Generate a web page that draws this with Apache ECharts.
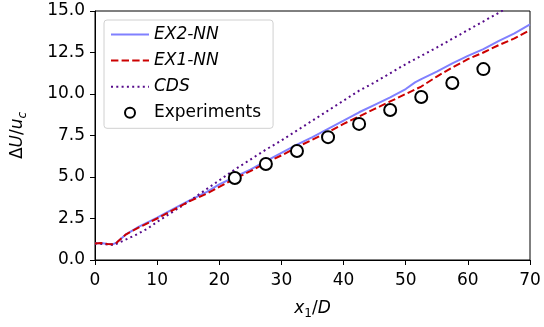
<!DOCTYPE html>
<html>
<head>
<meta charset="utf-8">
<script src="https://cdn.jsdelivr.net/npm/echarts@6/dist/echarts.min.js"></script>
<style>
  html, body { margin: 0; padding: 0; background: #fff; }
  #container { width: 544px; height: 327px; }
</style>
</head>
<body>
<div id="container"></div>
<script>
// data
var ex2X = [0, 1, 2, 3, 3.5, 5, 7, 10, 13, 15, 18, 20, 22.5, 25, 27.5, 30, 32.5, 35, 37.5, 40, 42.5, 45, 47.5, 50, 51.5, 52.5, 55, 57.5, 60, 62.5, 65, 67.5, 70];
var ex2Y = [1.0, 1.02, 0.96, 0.97, 1.05, 1.55, 2.0, 2.55, 3.15, 3.55, 4.1, 4.55, 5.0, 5.45, 5.95, 6.45, 6.95, 7.4, 7.9, 8.4, 8.9, 9.35, 9.8, 10.3, 10.7, 10.9, 11.35, 11.85, 12.3, 12.7, 13.2, 13.65, 14.2];

var ex1X = [0, 1, 2, 3, 3.5, 5, 7, 10, 13, 15, 18, 20, 22.5, 25, 27.5, 30, 32.5, 35, 37.5, 40, 42.5, 45, 47.5, 50, 52.5, 55, 57.5, 60, 62.5, 65, 67.5, 70];
var ex1Y = [1.0, 1.02, 0.96, 0.95, 1.05, 1.55, 1.95, 2.5, 3.1, 3.5, 4.0, 4.4, 4.9, 5.35, 5.85, 6.3, 6.8, 7.25, 7.7, 8.2, 8.65, 9.1, 9.55, 10.0, 10.45, 11.05, 11.6, 12.1, 12.5, 12.95, 13.35, 13.85];

var cdsX = [0, 1.5, 3, 4.5, 6.5, 8.5, 10, 12.5, 15, 17.5, 20, 22.5, 25, 27.5, 30, 35, 40, 42.5, 45, 50, 55, 60, 65, 70];
var cdsY = [1.0, 0.95, 0.9, 1.15, 1.5, 1.9, 2.3, 2.9, 3.5, 4.15, 4.8, 5.45, 6.05, 6.65, 7.2, 8.4, 9.6, 10.2, 10.7, 11.8, 12.8, 13.85, 14.9, 16.0];

var expX = [22.5, 27.5, 32.5, 37.5, 42.5, 47.5, 52.5, 57.5, 62.5];
var expY = [4.94, 5.78, 6.57, 7.4, 8.2, 9.04, 9.82, 10.66, 11.5];

var pairs = function (xs, ys) {
  var res = [];
  for (var i = 0; i < xs.length; i++) res.push([xs[i], ys[i]]);
  return res;
};

var font = 'DejaVu Sans';
var myChart = echarts.init(document.getElementById('container'));

// hide the dot echarts puts on line legend icons
var noDot = { opacity: 0 };

var option = {
  animation: false,
  textStyle: { fontFamily: font },
  grid: {
    left: 95, right: 14, top: 11, bottom: 67,
    show: true, borderColor: '#000', borderWidth: 1
  },
  legend: {
    orient: 'vertical',
    left: 104, top: 20,
    itemWidth: 38, itemHeight: 10, itemGap: 9.1,
    padding: [6, 12, 7, 6],
    borderColor: '#d0d0d0', borderWidth: 1, borderRadius: 3,
    backgroundColor: 'rgba(255,255,255,0.8)',
    data: [
      { name: 'EX2-NN', itemStyle: noDot },
      { name: 'EX1-NN', itemStyle: noDot },
      { name: 'CDS', itemStyle: noDot },
      { name: 'Experiments' }
    ],
    formatter: function (name) {
      return name === 'Experiments' ? '{n|' + name + '}' : '{i|' + name + '}';
    },
    textStyle: {
      fontFamily: font, fontSize: 17, color: '#000', lineHeight: 17,
      rich: {
        i: { fontFamily: font, fontSize: 17, fontStyle: 'italic', lineHeight: 17 },
        n: { fontFamily: font, fontSize: 17, lineHeight: 17 }
      }
    }
  },
  xAxis: {
    type: 'value', min: 0, max: 70, interval: 10,
    name: '{i|x}{s|1}{n|/}{i|D}',
    nameLocation: 'middle', nameGap: 38,
    nameTextStyle: {
      rich: {
        i: { fontFamily: font, fontSize: 17, fontStyle: 'italic', color: '#000' },
        n: { fontFamily: font, fontSize: 17, color: '#000' },
        s: { fontFamily: font, fontSize: 12, color: '#000', padding: [10, 0, 0, 0] }
      }
    },
    axisLine: { lineStyle: { color: '#000', width: 1 } },
    axisTick: { inside: false, length: 5, lineStyle: { color: '#000' } },
    axisLabel: { color: '#000', fontSize: 17, margin: 12, fontFamily: font },
    splitLine: { show: false }
  },
  yAxis: {
    type: 'value', min: 0, max: 15, interval: 2.5,
    name: '{n|Δ}{i|U}{n|/}{i|u}{s|c}',
    nameLocation: 'middle', nameGap: 66, nameRotate: 90,
    nameTextStyle: {
      rich: {
        i: { fontFamily: font, fontSize: 17, fontStyle: 'italic', color: '#000' },
        n: { fontFamily: font, fontSize: 17, color: '#000' },
        s: { fontFamily: font, fontSize: 12, fontStyle: 'italic', color: '#000', padding: [10, 0, 0, 0] }
      }
    },
    axisLine: { show: true, lineStyle: { color: '#000', width: 1 } },
    axisTick: { show: true, inside: false, length: 5, lineStyle: { color: '#000' } },
    axisLabel: {
      color: '#000', fontSize: 17, margin: 10, fontFamily: font,
      formatter: function (v) { return v.toFixed(1); }
    },
    splitLine: { show: false }
  },
  series: [
    {
      name: 'EX2-NN', type: 'line', symbol: 'none', z: 2,
      lineStyle: { color: '#8080ff', width: 2 },
      itemStyle: { color: '#8080ff' },
      data: pairs(ex2X, ex2Y)
    },
    {
      name: 'EX1-NN', type: 'line', symbol: 'none', z: 3,
      lineStyle: { color: '#cc0000', width: 2, type: [7.4, 3.2] },
      itemStyle: { color: '#cc0000' },
      data: pairs(ex1X, ex1Y)
    },
    {
      name: 'CDS', type: 'line', symbol: 'none', z: 2,
      lineStyle: { color: '#560b8a', width: 2, type: [2, 3.3] },
      itemStyle: { color: '#560b8a' },
      data: pairs(cdsX, cdsY)
    },
    {
      name: 'Experiments', type: 'scatter', symbol: 'circle', symbolSize: 12, z: 4,
      itemStyle: { color: '#fff', borderColor: '#000', borderWidth: 2, opacity: 1 },
      data: pairs(expX, expY)
    }
  ]
};

myChart.setOption(option);
</script>
</body>
</html>
